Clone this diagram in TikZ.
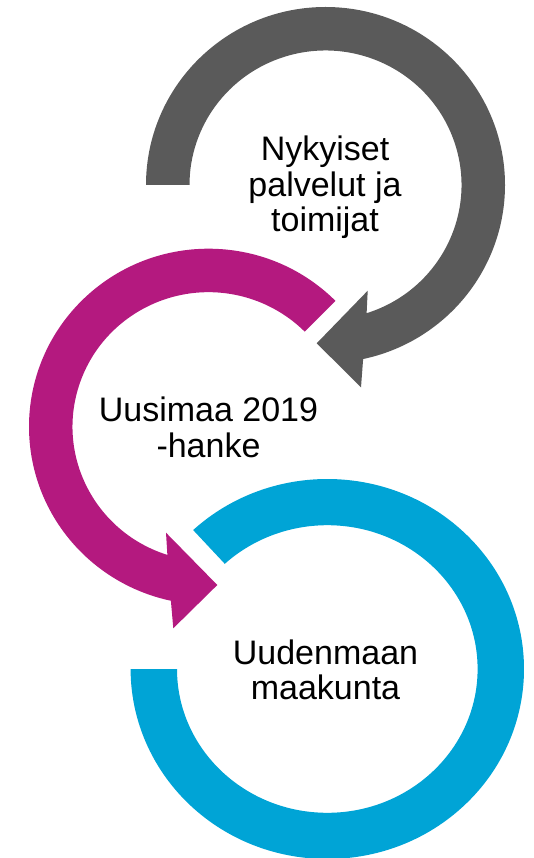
\documentclass[tikz,border=0pt]{standalone}
\usepackage{fontspec}
\setmainfont{Liberation Sans}
\definecolor{cgray}{HTML}{5A5A5A}
\definecolor{cmag}{HTML}{B4197F}
\definecolor{cblue}{HTML}{00A4D6}
\begin{document}
\begin{tikzpicture}[x=1pt,y=1pt,
  lbl/.style={font=\fontsize{34}{35.5}\selectfont, align=center, inner sep=0pt, text=black}]
\useasboundingbox (0,0) rectangle (534,-858);
\coordinate (c1) at (325.5,-185);
\coordinate (c2) at (208.5,-426.7);
\coordinate (c3) at (327.3,-669);
% gray circular arrow
\fill[cgray] ([shift={(c1)}]180:179.5 and 178) arc[start angle=180,end angle=-77.9,x radius=179.5,y radius=178]
  -- ([shift={(c1)}]35.5,-202.3) -- ([shift={(c1)}]-8.8,-158.3) -- ([shift={(c1)}]42.2,-105.7)
  -- ([shift={(c1)}]-72.4:136 and 134.5) arc[start angle=-72.4,end angle=180,x radius=136,y radius=134.5] -- cycle;
% magenta circular arrow
\fill[cmag] ([shift={(c2)}]45:179.5 and 178) arc[start angle=45,end angle=257.9,x radius=179.5,y radius=178]
  -- ([shift={(c2)}]-35.2,-201.6) -- ([shift={(c2)}]8.8,-158.3) -- ([shift={(c2)}]-42.5,-106)
  -- ([shift={(c2)}]252.4:136 and 134.5) arc[start angle=252.4,end angle=45,x radius=136,y radius=134.5] -- cycle;
% blue ring
\fill[cblue] ([shift={(c3)}]133:196.7 and 190) arc[start angle=133,end angle=-180,x radius=196.7,y radius=190]
  -- ([shift={(c3)}]180:150.3 and 143.8) arc[start angle=-180,end angle=133,x radius=150.3,y radius=143.8] -- cycle;
% labels
\node[lbl] (t1) at (325,-187.5) {Nykyiset\\palvelut ja\\toimijat};
\node[lbl] (t2) at (208.5,-427.1) {Uusimaa 2019\\-hanke};
\node[lbl] (t3) at (325.5,-669.7) {Uudenmaan\\maakunta};
\end{tikzpicture}
\end{document}
